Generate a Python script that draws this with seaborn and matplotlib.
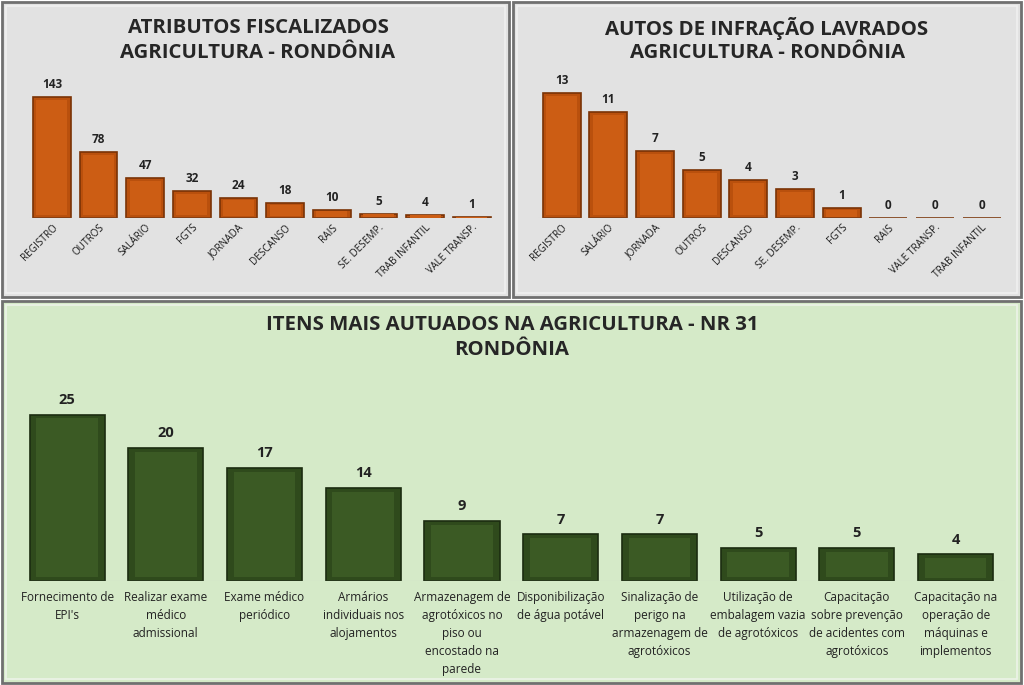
import matplotlib
matplotlib.use("Agg")
import matplotlib.pyplot as plt
from matplotlib.patches import Rectangle
import seaborn as sns
import pandas as pd

# Data
fisc_labels = ["REGISTRO", "OUTROS", "SALÁRIO", "FGTS", "JORNADA", "DESCANSO",
               "RAIS", "SE. DESEMP.", "TRAB INFANTIL", "VALE TRANSP."]
fisc_values = [143, 78, 47, 32, 24, 18, 10, 5, 4, 1]

autos_labels = ["REGISTRO", "SALÁRIO", "JORNADA", "OUTROS", "DESCANSO",
                "SE. DESEMP.", "FGTS", "RAIS", "VALE TRANSP.", "TRAB INFANTIL"]
autos_values = [13, 11, 7, 5, 4, 3, 1, 0, 0, 0]

itens_labels = ["Fornecimento de\nEPI's", "Realizar exame\nmédico\nadmissional",
                "Exame médico\nperiódico", "Armários\nindividuais nos\nalojamentos",
                "Armazenagem de\nagrotóxicos no\npiso ou\nencostado na\nparede",
                "Disponibilização\nde água potável",
                "Sinalização de\nperigo na\narmazenagem de\nagrotóxicos",
                "Utilização de\nembalagem vazia\nde agrotóxicos",
                "Capacitação\nsobre prevenção\nde acidentes com\nagrotóxicos",
                "Capacitação na\noperação de\nmáquinas e\nimplementos"]
itens_values = [25, 20, 17, 14, 9, 7, 7, 5, 5, 4]

sns.set_theme(style="white")
plt.rcParams["font.family"] = ["Open Sans", "DejaVu Sans"]

W, H = 1024, 685
fig = plt.figure(figsize=(W / 100, H / 100), dpi=100)
fig.patch.set_facecolor("white")


def px(x0, y0, x1, y1):
    return [x0 / W, 1 - y1 / H, (x1 - x0) / W, (y1 - y0) / H]


def panel(x0, y0, x1, y1, color):
    fig.patches.append(Rectangle((x0 / W, 1 - y1 / H), (x1 - x0) / W, (y1 - y0) / H,
                                 transform=fig.transFigure, facecolor=color,
                                 edgecolor="#707070", linewidth=2, zorder=-10))
    fig.patches.append(Rectangle(((x0 + 4) / W, 1 - (y1 - 4) / H), (x1 - x0 - 8) / W,
                                 (y1 - y0 - 8) / H, transform=fig.transFigure,
                                 facecolor="none", edgecolor="#f6f6f6", linewidth=1.2,
                                 alpha=0.7, zorder=-9))


def bars(ax, labels, values, color, edge, light, width, ymax, fs_val):
    df = pd.DataFrame({"cat": labels, "val": values})
    sns.barplot(data=df, x="cat", y="val", ax=ax, color=color, width=width,
                edgecolor=edge, linewidth=1.2, saturation=1)
    # simple bevel: lighter inset face
    for p in list(ax.patches):
        x, y, w, h = p.get_x(), p.get_y(), p.get_width(), p.get_height()
        if h <= 0:
            continue
        ix = w * 0.09
        iy = min(h * 0.12, ymax * 0.02)
        ax.add_patch(Rectangle((x + ix, y + iy), w - 2 * ix, h - 2 * iy,
                               facecolor=light, edgecolor="none", zorder=3))
    for i, v in enumerate(values):
        ax.text(i, v + ymax * 0.04, str(v), ha="center", va="bottom",
                fontsize=fs_val, fontweight="bold", color="#222222")
    ax.set_ylim(0, ymax)
    ax.set_xlim(-0.5, len(values) - 0.5)
    ax.set_facecolor("none")
    ax.set_yticks([])
    ax.set_xlabel("")
    ax.set_ylabel("")
    for s in ax.spines.values():
        s.set_visible(False)
    ax.axhline(0, color="#d0d0d0", linewidth=0.8, zorder=1)


# Panels
panel(2, 2, 509, 297, "#e2e2e2")
panel(513, 2, 1021, 297, "#e2e2e2")
panel(2, 301, 1021, 683, "#d5eac8")

title_kw = dict(ha="center", va="center", fontsize=14.7, fontweight="bold",
                color="#262626")

# Top-left
ax1 = fig.add_axes(px(28.6, 74, 495, 218))
bars(ax1, fisc_labels, fisc_values, "#b9500d", "#7a3306", "#cc5d14", 0.81, 170, 8.5)
ax1.tick_params(axis="x", length=0, pad=3)
plt.setp(ax1.get_xticklabels(), rotation=45, ha="right", rotation_mode="anchor",
         fontsize=7.2, color="#1a1a1a")
fig.text(258 / W, 1 - 28 / H, "ATRIBUTOS FISCALIZADOS", **title_kw)
fig.text(258 / W, 1 - 53 / H, "AGRICULTURA - RONDÔNIA", **title_kw)

# Top-right
ax2 = fig.add_axes(px(538.4, 69, 1005, 218))
bars(ax2, autos_labels, autos_values, "#b9500d", "#7a3306", "#cc5d14", 0.81, 15.5, 8.5)
ax2.tick_params(axis="x", length=0, pad=3)
plt.setp(ax2.get_xticklabels(), rotation=45, ha="right", rotation_mode="anchor",
         fontsize=7.2, color="#1a1a1a")
fig.text(767 / W, 1 - 28 / H, "AUTOS DE INFRAÇÃO LAVRADOS", **title_kw)
fig.text(767 / W, 1 - 53 / H, "AGRICULTURA - RONDÔNIA", **title_kw)

# Bottom
ax3 = fig.add_axes(px(17.7, 388, 1005, 581))
bars(ax3, itens_labels, itens_values, "#2f4a1c", "#1b2c10", "#3b5a24", 0.76, 29, 10.5)
ax3.tick_params(axis="x", length=0, pad=7)
plt.setp(ax3.get_xticklabels(), fontsize=8.5, color="#222222", linespacing=1.5,
         ha="center")
fig.text(512 / W, 1 - 325 / H, "ITENS MAIS AUTUADOS NA AGRICULTURA - NR 31", **title_kw)
fig.text(512 / W, 1 - 350 / H, "RONDÔNIA", **title_kw)

fig.savefig("out.png", dpi=100)
